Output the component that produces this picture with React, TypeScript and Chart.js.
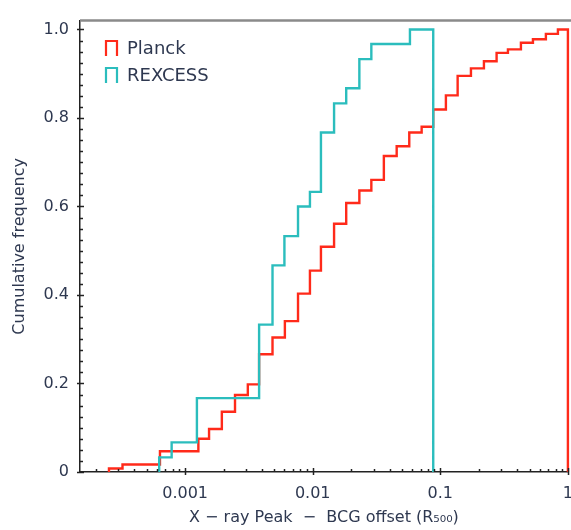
import React, { useEffect, useRef } from 'react';
import { Chart, registerables } from 'chart.js';

Chart.register(...registerables);

// Planck: cumulative step histogram (bin left edges where the curve rises, level after each rise)
const planckEdges = [2.53e-4, 3.23e-4, 6.35e-4, 1.27e-3, 1.54e-3, 1.94e-3, 2.46e-3, 3.1e-3, 3.8e-3, 4.84e-3, 6.05e-3, 7.67e-3, 9.51e-3, 0.0116, 0.0147, 0.0183, 0.0232, 0.0288, 0.0361, 0.0455, 0.0571, 0.0714, 0.088, 0.1106, 0.1367, 0.1738, 0.2197, 0.2761, 0.3388, 0.4283, 0.532, 0.672, 0.835];
const planckLevels = [0.008, 0.017, 0.047, 0.075, 0.097, 0.136, 0.174, 0.198, 0.266, 0.304, 0.341, 0.403, 0.455, 0.509, 0.561, 0.608, 0.636, 0.66, 0.714, 0.736, 0.767, 0.78, 0.819, 0.851, 0.895, 0.912, 0.928, 0.947, 0.955, 0.97, 0.978, 0.99, 1.0];
const planckEnd = 1.0;

// REXCESS
const rexcessEdges = [6.26e-4, 7.84e-4, 1.237e-3, 3.8e-3, 4.84e-3, 6.0e-3, 7.67e-3, 9.51e-3, 0.0116, 0.0147, 0.0183, 0.0232, 0.0288, 0.0578];
const rexcessLevels = [0.033, 0.067, 0.167, 0.333, 0.467, 0.533, 0.6, 0.633, 0.767, 0.833, 0.867, 0.933, 0.967, 1.0];
const rexcessEnd = 0.088;

const xTickValues = [0.001, 0.01, 0.1, 1];
const xTickLabels = ['0.001', '0.01', '0.1', '1'];
const yTickValues = [0, 0.2, 0.4, 0.6, 0.8, 1.0];
const yTickLabels = ['0', '0.2', '0.4', '0.6', '0.8', '1.0'];

const seriesNames = ['Planck', 'REXCESS'];
const RED = '#ff2a1a';
const CYAN = '#2bbdbd';
const TEXT = '#2e3850';
const FONT = "'DejaVu Sans', sans-serif";

function stepPoints(edges: number[], levels: number[], end: number) {
  const pts: { x: number; y: number }[] = [{ x: edges[0], y: 0 }];
  edges.forEach((e, i) => pts.push({ x: e, y: levels[i] }));
  pts.push({ x: end, y: levels[levels.length - 1] });
  pts.push({ x: end, y: 0 });
  return pts;
}

const decorPlugin = {
  id: 'decor',
  afterDraw(chart: any) {
    const { ctx, chartArea: a, scales } = chart;
    const x = scales.x;
    const y = scales.y;
    ctx.save();
    // top frame
    ctx.strokeStyle = '#8a8a8a';
    ctx.lineWidth = 2.5;
    ctx.beginPath();
    ctx.moveTo(a.left, a.top);
    ctx.lineTo(a.right + 30, a.top);
    ctx.stroke();

    ctx.strokeStyle = '#222';
    ctx.lineWidth = 1.5;
    // y ticks
    for (let i = 0; i <= 40; i++) {
      const v = i * 0.025;
      const py = Math.round(y.getPixelForValue(v)) + 0.5;
      const major = i % 8 === 0;
      ctx.beginPath();
      ctx.moveTo(a.left - (major ? 3 : 0), py);
      ctx.lineTo(a.left + (major ? 4 : 3), py);
      ctx.stroke();
    }
    // x ticks
    for (let d = -4; d <= 0; d++) {
      for (let k = 1; k <= 9; k++) {
        const v = k * Math.pow(10, d);
        if (v < x.min || v > x.max) continue;
        const px = Math.round(x.getPixelForValue(v)) + 0.5;
        const major = k === 1;
        ctx.beginPath();
        ctx.moveTo(px, a.bottom + (major ? 3 : 0));
        ctx.lineTo(px, a.bottom - (major ? 4 : 3));
        ctx.stroke();
      }
    }

    // legend
    const colors = [RED, CYAN];
    const rows = [48, 75];
    ctx.font = `18px ${FONT}`;
    ctx.textBaseline = 'middle';
    ctx.textAlign = 'left';
    seriesNames.forEach((name, i) => {
      const cy = rows[i];
      ctx.strokeStyle = colors[i];
      ctx.lineWidth = 2.2;
      ctx.beginPath();
      ctx.moveTo(106, cy + 8);
      ctx.lineTo(106, cy - 7);
      ctx.lineTo(117, cy - 7);
      ctx.lineTo(117, cy + 8);
      ctx.stroke();
      ctx.fillStyle = TEXT;
      ctx.fillText(name, 127, cy + 1);
    });
    ctx.restore();
  },
};

export default function App() {
  const ref = useRef<HTMLCanvasElement>(null);
  useEffect(() => {
    if (!ref.current) return;
    const chart = new Chart(ref.current, {
      type: 'line',
      data: {
        datasets: [
          {
            label: seriesNames[1],
            data: stepPoints(rexcessEdges, rexcessLevels, rexcessEnd),
            borderColor: CYAN,
            borderWidth: 2.4,
            stepped: 'before',
            pointRadius: 0,
            fill: false,
            clip: 6,
          },
          {
            label: seriesNames[0],
            data: stepPoints(planckEdges, planckLevels, planckEnd),
            borderColor: RED,
            borderWidth: 2.4,
            stepped: 'before',
            pointRadius: 0,
            fill: false,
            clip: 6,
          },
        ],
      },
      options: {
        animation: false,
        responsive: false,
        devicePixelRatio: 1,
        layout: { padding: { top: 13, right: 7, left: 0, bottom: 0 } },
        plugins: { legend: { display: false }, tooltip: { enabled: false } },
        scales: {
          x: {
            type: 'logarithmic',
            min: 1.5e-4,
            max: 1,
            afterBuildTicks: (s: any) => {
              s.ticks = xTickValues.map((v) => ({ value: v }));
            },
            afterFit: (s: any) => {
              s.height = 58;
            },
            ticks: {
              autoSkip: false,
              maxRotation: 0,
              padding: 12,
              color: TEXT,
              font: { family: FONT, size: 16 },
              callback: (v: any) => {
                const i = xTickValues.indexOf(Number(v));
                return i >= 0 ? xTickLabels[i] : '';
              },
            },
            grid: { display: true, drawOnChartArea: false, drawTicks: false },
            border: { display: true, color: '#222', width: 1.5 },
            title: {
              display: true,
              text: 'X \u2212 ray Peak  \u2212  BCG offset (R\u2085\u2080\u2080)',
              color: TEXT,
              font: { family: FONT, size: 16 },
              padding: { top: 0, bottom: 3 },
            },
          },
          y: {
            type: 'linear',
            min: 0,
            max: 1.02,
            afterBuildTicks: (s: any) => {
              s.ticks = yTickValues.map((v) => ({ value: v }));
            },
            afterFit: (s: any) => {
              s.width = 80;
            },
            ticks: {
              padding: 11,
              color: TEXT,
              font: { family: FONT, size: 16 },
              callback: (v: any) => {
                const i = yTickValues.findIndex((t) => Math.abs(t - Number(v)) < 1e-9);
                return i >= 0 ? yTickLabels[i] : '';
              },
            },
            grid: { display: true, drawOnChartArea: false, drawTicks: false },
            border: { display: true, color: '#222', width: 1.5 },
            title: {
              display: true,
              text: 'Cumulative frequency',
              color: TEXT,
              font: { family: FONT, size: 16 },
              padding: { top: 10, bottom: 0 },
            },
          },
        },
      },
      plugins: [decorPlugin],
    });
    return () => chart.destroy();
  }, []);

  return (
    <div style={{ position: 'fixed', left: 0, top: 0, width: 571, height: 530, overflow: 'hidden', background: '#fff' }}>
      <canvas ref={ref} width={585} height={530} style={{ display: 'block' }} />
    </div>
  );
}
